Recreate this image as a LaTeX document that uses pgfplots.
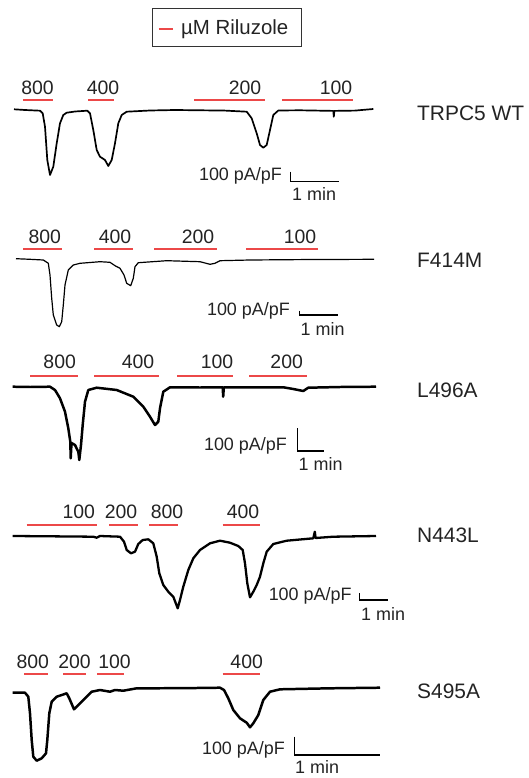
\documentclass[border=0pt]{standalone}
\usepackage{pgfplots}
\pgfplotsset{compat=1.18}
\usepackage{fontspec}
\setmainfont{Liberation Sans}
\definecolor{riluz}{RGB}{236,72,72}
\definecolor{txt}{RGB}{35,35,35}
\tikzset{
  num/.style={font=\fontsize{19.5}{22}\selectfont,text=txt,inner sep=0pt,anchor=center},
  lab/.style={font=\fontsize{21}{24}\selectfont,text=txt,inner sep=0pt,anchor=west},
  sc/.style={font=\fontsize{18}{20}\selectfont,text=txt,inner sep=0pt},
}
\pgfplotsset{
  bar/.style={riluz,line width=1.9pt},
  scb/.style={black,line width=1.1pt},
}
\begin{document}
\begin{tikzpicture}
\begin{axis}[
  width=529bp, height=778bp, scale only axis,
  xmin=0, xmax=529, ymin=0, ymax=778, y dir=reverse,
  hide axis, clip=false,
]
\addplot[draw=none] coordinates {(0,0) (529,778)};

% legend box
\draw[line width=0.9pt,black!80] (axis cs:152,8) rectangle (axis cs:301,46);
\addplot[draw=riluz,line width=2pt] coordinates {(158.5,29.3) (172.5,29.3)};
\node[sc,font=\fontsize{20.5}{23}\selectfont,anchor=base west] at (axis cs:181,34.3) {µM Riluzole};

% ---------------- TRPC5 WT ----------------
\addplot[bar] coordinates {(23,100) (53,100)};
\addplot[bar] coordinates {(88,100) (114,100)};
\addplot[bar] coordinates {(194,100) (265,100)};
\addplot[bar] coordinates {(282,100) (353,100)};
\node[num] at (axis cs:37.5,87.5) {800};
\node[num] at (axis cs:103,87.5) {400};
\node[num] at (axis cs:245,87.5) {200};
\node[num] at (axis cs:336,87.5) {100};
\addplot[black,line width=1.7pt,line join=round] coordinates {
 (14,109.3) (25,110) (40,110.7) (42.7,113.3) (45,126.7) (47.3,160) (50,175)
 (53.3,166.7) (56.7,143.3) (60,123.3) (63.3,115) (66.7,112.7) (75,111.5)
 (87.3,110.7) (90,113.3) (93.3,130) (96.7,150) (100,156.7) (105,160) (108.3,166)
 (111.7,160) (115,143.3) (118.3,123.3) (121.7,115) (126.7,111.7) (150,110.5)
 (175,110) (200,110.3) (225,110.6) (246.7,111.7) (251.7,118.3) (256.7,133.3)
 (260,145) (263.3,147.7) (266.7,145) (270,130) (273.3,115) (278.3,110.5)
 (300,110.3) (333.3,110.9) (333.8,116.7) (334.4,110.9) (355,110.6) (373.3,109)
};
\addplot[scb] coordinates {(290.7,171.7) (290.7,181.7) (339,181.7)};
\node[sc,anchor=base east] at (axis cs:282,180.7) {100 pA/pF};
\node[sc,anchor=base west] at (axis cs:292,200.5) {1 min};
\node[lab] at (axis cs:417,113.3) {TRPC5 WT};

% ---------------- F414M ----------------
\addplot[bar] coordinates {(23,249.3) (62,249.3)};
\addplot[bar] coordinates {(94,249.3) (133,249.3)};
\addplot[bar] coordinates {(154,249.3) (217,249.3)};
\addplot[bar] coordinates {(246,249.3) (318,249.3)};
\node[num] at (axis cs:44.8,236.7) {800};
\node[num] at (axis cs:115,236.7) {400};
\node[num] at (axis cs:198,236.7) {200};
\node[num] at (axis cs:300,236.7) {100};
\addplot[black,line width=1.2pt,line join=round] coordinates {
 (16,258.7) (30,259.3) (43.3,260) (48.3,263.3) (50,275) (51.7,298.3) (53.3,315)
 (56.7,325) (59.3,326.7) (61.7,321.7) (63.3,305) (65,285) (68.3,270) (73.3,265)
 (80,263.3) (100,261.7) (110,262.3) (115,265.7) (120,268.3) (124,275)
 (126.7,283.3) (130.7,285.7) (133.3,278.3) (135,266.7) (138.3,262.7)
 (166.7,260.7) (200,261.7) (210,264.3) (215,263.3) (220,260.7) (250,260)
 (300,259.6) (374,259.3)
};
\addplot[scb] coordinates {(299.3,310.5) (299.3,315) (338.3,315)};
\node[sc,anchor=base east] at (axis cs:290,315.5) {100 pA/pF};
\node[sc,anchor=base west] at (axis cs:300.5,335.5) {1 min};
\node[lab] at (axis cs:417,260) {F414M};

% ---------------- L496A ----------------
\addplot[bar] coordinates {(30,375.7) (78,375.7)};
\addplot[bar] coordinates {(94,375.7) (159,375.7)};
\addplot[bar] coordinates {(177,375.7) (233,375.7)};
\addplot[bar] coordinates {(249,375.7) (307,375.7)};
\node[num] at (axis cs:59.7,361.7) {800};
\node[num] at (axis cs:138,361.7) {400};
\node[num] at (axis cs:217,361.7) {100};
\node[num] at (axis cs:286.7,361.7) {200};
\addplot[black,line width=2.5pt,line join=round] coordinates {
 (12.7,386.7) (30,387) (50,386.7) (55,390) (60,398.3) (65,411.7) (68.3,428.3)
 (70.3,441.7) (70.7,458.3) (71.5,443) (75,445) (78.3,451.7) (79.3,460) (81,445)
 (82.7,425) (85,401.7) (88.3,390) (96.7,387.7) (116.7,390) (133.3,396.7)
 (143.3,406.7) (150,416.7) (155,425) (158.3,421.7) (160,408.3) (163.3,391.7)
 (170,387.3) (200,387.5) (222.7,387.3) (223.2,396.7) (223.8,387.3) (250,387.4)
 (283.3,387.3) (293.3,389) (303.3,391) (308.3,387.7) (340,387) (376,386.7)
};
\addplot[scb] coordinates {(297.7,428.3) (297.7,451) (324.3,451)};
\node[sc,anchor=base east] at (axis cs:287,450) {100 pA/pF};
\node[sc,anchor=base west] at (axis cs:298.5,470) {1 min};
\node[lab] at (axis cs:417,390) {L496A};

% ---------------- N443L ----------------
\addplot[bar] coordinates {(26.7,525) (97.3,525)};
\addplot[bar] coordinates {(109.3,525) (137.7,525)};
\addplot[bar] coordinates {(149.3,525) (177.7,525)};
\addplot[bar] coordinates {(222.7,525) (260,525)};
\node[num] at (axis cs:78.8,511.7) {100};
\node[num] at (axis cs:121,511.7) {200};
\node[num] at (axis cs:167,511.7) {800};
\node[num] at (axis cs:243,511.7) {400};
\addplot[black,line width=2.3pt,line join=round] coordinates {
 (12.7,536) (50,536.3) (93.3,536.7) (96.7,537.7) (100,536) (120,536.7)
 (124,541.7) (126.7,550) (131,553.3) (135,551.7) (138.3,544) (142.7,540)
 (148.3,539.3) (153.3,543.3) (156.7,556.7) (159.3,573.3) (163.3,585)
 (168.3,591.7) (173.3,596.7) (177.7,608.3) (180,600) (183.3,586.7) (188.3,570)
 (193.3,558.3) (200,550) (210,543.3) (220,540.7) (230,542.7) (238.3,546)
 (242.7,550) (245,563.3) (247.3,583.3) (250,597.3) (253.3,591.7) (256.7,585)
 (260,576.7) (263.3,563.3) (266.7,551.7) (273.3,544) (286.7,540.7)
 (313.3,538.3) (314.8,531.7) (315.6,538) (333.3,536.7) (376,536)
};
\addplot[scb] coordinates {(359.3,593.3) (359.3,600) (388.3,600)};
\node[sc,anchor=base east] at (axis cs:351.7,600.5) {100 pA/pF};
\node[sc,anchor=base west] at (axis cs:361,620) {1 min};
\node[lab] at (axis cs:417,535.7) {N443L};

% ---------------- S495A ----------------
\addplot[bar] coordinates {(24,674) (48.3,674)};
\addplot[bar] coordinates {(63.3,674) (86,674)};
\addplot[bar] coordinates {(97.3,674) (124.3,674)};
\addplot[bar] coordinates {(222.7,674) (260,674)};
\node[num] at (axis cs:32.8,661.7) {800};
\node[num] at (axis cs:74.5,661.7) {200};
\node[num] at (axis cs:114.5,661.7) {100};
\node[num] at (axis cs:246.7,661.7) {400};
\addplot[black,line width=2.5pt,line join=round] coordinates {
 (12.7,692.7) (25,692.7) (28.3,696.7) (30,713.3) (31.7,740) (33.3,756.7)
 (36.7,760.7) (41.7,758.3) (46,753.3) (47.3,740) (49.3,713.3) (51.7,701.7)
 (56.7,696.7) (66.7,693.3) (69.3,698.3) (74,709.3) (78.3,705) (85,698.3)
 (91.7,691.7) (100,690) (110,691.7) (115,690) (123.3,690.7) (136.7,688.3)
 (180,688.2) (220,687.7) (224,690) (228.3,698.3) (233.3,710) (240,718.3)
 (246.7,722.7) (250,727.3) (253.3,723.3) (258.3,715) (263.3,700) (270,691.7)
 (280,689.3) (330,688.3) (380,687.7)
};
\addplot[scb] coordinates {(294.3,736.7) (294.3,755) (380,755)};
\node[sc,anchor=base east] at (axis cs:285,754) {100 pA/pF};
\node[sc,anchor=base west] at (axis cs:295,773.5) {1 min};
\node[lab] at (axis cs:417,691.7) {S495A};
\end{axis}
\end{tikzpicture}
\end{document}
